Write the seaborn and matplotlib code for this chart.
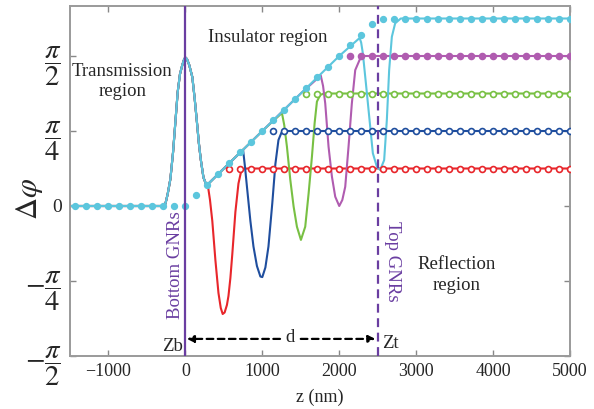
import numpy as np
import pandas as pd
import seaborn as sns
import matplotlib.pyplot as plt

# phase in units of pi, z in nm
# shared part: gaussian peak at bottom GNRs then the linear ramp
peak_z = [-1500, -300, -260, -230, -195, -160, -130, -100, -70, -40, -15, 0,
          20, 50, 90, 120, 150, 175, 200, 235, 265, 290]
peak_phi = [0, 0, 0.007, 0.04, 0.09, 0.18, 0.28, 0.38, 0.44, 0.47, 0.49, 0.495,
            0.49, 0.47, 0.43, 0.36, 0.28, 0.21, 0.155, 0.095, 0.075, 0.072]

red_z = [320, 350, 390, 430, 460, 485, 510, 540, 560, 585, 610, 650, 690, 720, 750, 800, 5000]
red_phi = [0.02, -0.05, -0.18, -0.29, -0.34, -0.36, -0.355, -0.33, -0.30, -0.24, -0.16,
           -0.02, 0.075, 0.11, 0.122, 0.125, 0.125]

blue_z = [500, 750, 775, 800, 845, 885, 930, 975, 1000, 1040, 1080, 1130, 1170, 1210,
          1250, 1300, 5000]
blue_phi = [0.125, 0.1875, 0.13, 0.065, -0.05, -0.135, -0.2, -0.235, -0.237, -0.205,
            -0.135, 0.01, 0.14, 0.22, 0.245, 0.25, 0.25]

green_z = [500, 1000, 1255, 1285, 1320, 1364, 1407, 1450, 1502, 1558, 1602, 1645, 1680,
           1710, 1753, 1800, 5000]
green_phi = [0.125, 0.25, 0.31, 0.27, 0.198, 0.087, -0.002, -0.069, -0.113, -0.069, 0.042,
             0.164, 0.276, 0.348, 0.37, 0.375, 0.375]

magenta_z = [500, 1000, 1500, 1760, 1790, 1818, 1861, 1905, 1948, 2000, 2040, 2078, 2121,
             2164, 2208, 2273, 2320, 5000]
magenta_phi = [0.125, 0.25, 0.375, 0.435, 0.40, 0.342, 0.198, 0.098, 0.031, 0.0, 0.02,
               0.064, 0.198, 0.342, 0.453, 0.492, 0.5, 0.5]

cyan_z = [500, 1000, 1500, 2000, 2265, 2285, 2307, 2351, 2394, 2437, 2489, 2532, 2584,
          2619, 2649, 2684, 2727, 2800, 5000]
cyan_phi = [0.125, 0.25, 0.375, 0.5, 0.56, 0.545, 0.509, 0.398, 0.287, 0.176, 0.131, 0.12,
            0.153, 0.287, 0.453, 0.564, 0.609, 0.625, 0.625]

# theory points (circles)
dot_z = [-1429, -1286, -1143, -1000, -857, -714, -571, -429, -286, -143, 0, 143, 286, 429,
         571, 714, 857, 1000, 1143, 1286, 1429, 1571, 1714, 1857, 2000, 2143, 2286, 2429,
         2571, 2714, 2857, 3000, 3143, 3286, 3429, 3571, 3714, 3857, 4000, 4143, 4286, 4429,
         4571, 4714, 4857, 5000]
cyan_dot_phi = [0, 0, 0, 0, 0, 0, 0, 0, 0, 0, 0, 0.036, 0.071, 0.107, 0.143, 0.179, 0.214,
                0.25, 0.286, 0.321, 0.357, 0.393, 0.429, 0.464, 0.5, 0.536, 0.571, 0.607,
                0.625, 0.625, 0.625, 0.625, 0.625, 0.625, 0.625, 0.625, 0.625, 0.625, 0.625,
                0.625, 0.625, 0.625, 0.625, 0.625, 0.625, 0.625]
red_level, blue_level, green_level, magenta_level = 0.125, 0.25, 0.375, 0.5
red_dot_start, blue_dot_start, green_dot_start, magenta_dot_start = 571, 1143, 1571, 2143

colors = {'red': '#e8262b', 'blue': '#1f4e9e', 'green': '#78c043',
          'magenta': '#b05cb0', 'cyan': '#5cc6dd'}
purple = '#6a3ea1'

sns.set_style('ticks')
plt.rcParams['font.family'] = ['Liberation Serif', 'DejaVu Serif']
plt.rcParams['mathtext.fontset'] = 'stix'

fig = plt.figure(figsize=(5.94, 4.09), dpi=100)
ax = fig.add_axes([70 / 594, 53 / 409, 500 / 594, 350 / 409])


def ramp_then(z, phi):
    return peak_z + z, peak_phi + phi


series = [('red', red_z, red_phi), ('blue', blue_z, blue_phi),
          ('green', green_z, green_phi), ('magenta', magenta_z, magenta_phi)]
starts = {'red': red_dot_start, 'blue': blue_dot_start,
          'green': green_dot_start, 'magenta': magenta_dot_start}
levels = {'red': red_level, 'blue': blue_level,
          'green': green_level, 'magenta': magenta_level}
for name, z, phi in series:
    zz, pp = ramp_then(z, phi)
    sns.lineplot(x=zz, y=pp, color=colors[name], lw=1.5, sort=False,
                 estimator=None, ax=ax)
    dz = [d for d in dot_z if d >= starts[name]]
    face = colors[name] if name == 'magenta' else 'white'
    sns.scatterplot(x=dz, y=[levels[name]] * len(dz), s=18, facecolor=face,
                    edgecolor=colors[name], linewidth=1.2, ax=ax, zorder=4)

zz, pp = ramp_then(cyan_z, cyan_phi)
sns.lineplot(x=zz, y=pp, color=colors['cyan'], lw=1.5, sort=False,
             estimator=None, ax=ax)
sns.scatterplot(x=dot_z, y=cyan_dot_phi, s=18, color=colors['cyan'],
                edgecolor=colors['cyan'], linewidth=1.0, ax=ax, zorder=5)

# GNR planes
ax.axvline(0, color=purple, lw=1.6, zorder=6)
ax.axvline(2500, color=purple, lw=1.6, ls=(0, (4, 2.5)), zorder=6)

ax.set_xlim(-1500, 5000)
ax.set_ylim(-0.5, 2 / 3)
ax.set_xticks([-1000, 0, 1000, 2000, 3000, 4000, 5000])
ax.set_xticklabels(['\u22121000', '0', '1000', '2000', '3000', '4000', '5000'])
ax.set_yticks([-0.5, -0.25, 0, 0.25, 0.5])
ax.set_yticklabels([r'$-\dfrac{\pi}{2}$', r'$-\dfrac{\pi}{4}$', '0',
                    r'$\dfrac{\pi}{4}$', r'$\dfrac{\pi}{2}$'])
ax.tick_params(direction='in', length=4, width=1, color='#888888',
               top=True, right=True, labelsize=13, pad=5)
ax.tick_params(axis='y', labelsize=20.5, pad=6)
ax.get_yticklabels()[2].set_fontsize(14)
for sp in ax.spines.values():
    sp.set_color('#9a9a9a')
    sp.set_linewidth(1.4)

ax.set_xlabel('z (nm)', fontsize=13, labelpad=6)
ax.set_ylabel(r'$\Delta\varphi$', fontsize=22)
ax.yaxis.set_label_coords(-0.05, 0.45)

ax.text(-818, 0.415, 'Transmission\nregion', fontsize=13.5, ha='center', va='center',
        linespacing=1.25)
ax.text(1065, 0.56, 'Insulator region', fontsize=13.5, ha='center', va='center')
ax.text(3530, -0.23, 'Reflection\nregion', fontsize=13.5, ha='center', va='center',
        linespacing=1.25)
ax.text(-130, -0.197, 'Bottom GNRs', fontsize=13.5, color=purple, rotation=90,
        ha='center', va='center')
ax.text(2690, -0.183, 'Top GNRs', fontsize=13.5, color=purple, rotation=-90,
        ha='center', va='center')
ax.text(-30, -0.468, 'Zb', fontsize=13.5, ha='right', va='center')
ax.text(2560, -0.458, 'Zt', fontsize=13.5, ha='left', va='center')
ax.text(1364, -0.437, 'd', fontsize=13.5, ha='center', va='center')

arrow = dict(arrowstyle='-|>', linestyle=(0, (3, 2)), color='black', lw=1.6,
             mutation_scale=10, shrinkA=0, shrinkB=0)
ax.annotate('', xy=(20, -0.443), xytext=(1230, -0.443), arrowprops=arrow)
ax.annotate('', xy=(2470, -0.443), xytext=(1500, -0.443), arrowprops=arrow)

fig.savefig('out.png', dpi=100)
